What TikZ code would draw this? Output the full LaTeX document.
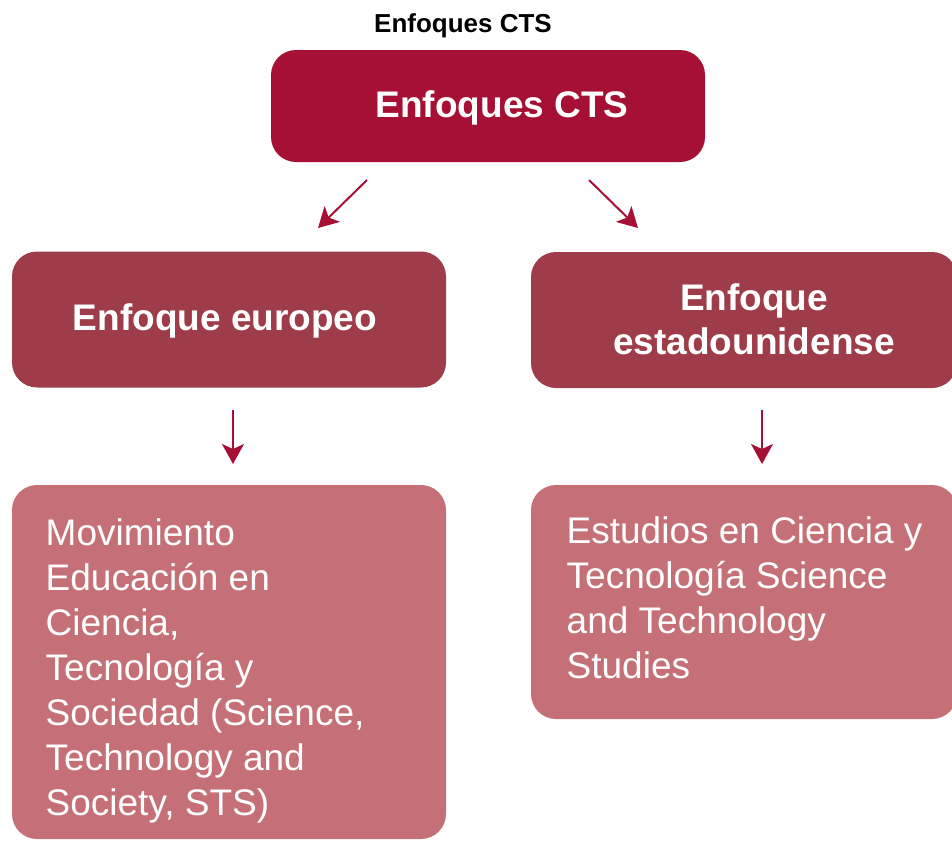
\documentclass[tikz,border=0pt]{standalone}
\usepackage{fontspec}
\setmainfont{Liberation Sans}
\usetikzlibrary{arrows.meta}
\definecolor{topred}{HTML}{A51034}
\definecolor{midred}{HTML}{9E3C4A}
\definecolor{lowred}{HTML}{C57077}
\tikzset{
  boxshape/.style={rectangle, rounded corners=25pt, draw=none, inner sep=0pt, outer sep=0pt},
  topbox/.style={boxshape, fill=topred},
  midbox/.style={boxshape, fill=midred},
  lowbox/.style={boxshape, fill=lowred},
  headtxt/.style={text=white, font=\fontsize{37}{44.5}\selectfont\bfseries, inner sep=0pt, align=center},
  bodytxt/.style={text=white, font=\fontsize{37}{45}\selectfont, inner sep=0pt, align=left, anchor=north west},
  conn/.style={draw=topred, line width=2pt, -{Stealth[length=20pt, width=22pt, inset=5pt]}}
}
\begin{document}
\begin{tikzpicture}[x=1pt, y=-1pt]
\useasboundingbox (0,0) rectangle (952,841);
% title
\node[font=\fontsize{26}{31}\selectfont\bfseries, inner sep=0pt, anchor=base] (title) at (463,32.5) {Enfoques CTS};
% boxes
\node[topbox, minimum width=434pt, minimum height=112pt] (top) at (488,106) {};
\node[midbox, minimum width=434pt, minimum height=136pt] (eu) at (229,319.5) {};
\node[midbox, minimum width=426pt, minimum height=136pt] (us) at (744,320) {};
\node[lowbox, minimum width=434pt, minimum height=354pt] (eul) at (229,662) {};
\node[lowbox, minimum width=426pt, minimum height=234pt] (usl) at (744,602) {};
% texts
\node[headtxt, anchor=base] (toptxt) at (502,117) {Enfoques CTS};
\node[headtxt, anchor=base] (eutxt) at (225,330) {Enfoque europeo};
\node[headtxt, anchor=north] (ustxt) at (754,283) {Enfoque\\estadounidense};
\node[bodytxt] (eultxt) at (45.5,518.5) {Movimiento\\Educación en\\Ciencia,\\Tecnología y\\Sociedad (Science,\\Technology and\\Society, STS)};
\node[bodytxt] (usltxt) at (566.5,516.5) {Estudios en Ciencia y\\Tecnología Science\\and Technology\\Studies};
% connectors
\coordinate (a1s) at (367,180);
\coordinate (a1e) at (318,228);
\coordinate (a2s) at (589,180);
\coordinate (a2e) at (638,228);
\coordinate (a3s) at (233,410);
\coordinate (a3e) at (233,464);
\coordinate (a4s) at (762,410);
\coordinate (a4e) at (762,464);
\draw[conn] (a1s) -- (a1e);
\draw[conn] (a2s) -- (a2e);
\draw[conn] (a3s) -- (a3e);
\draw[conn] (a4s) -- (a4e);
\end{tikzpicture}
\end{document}
